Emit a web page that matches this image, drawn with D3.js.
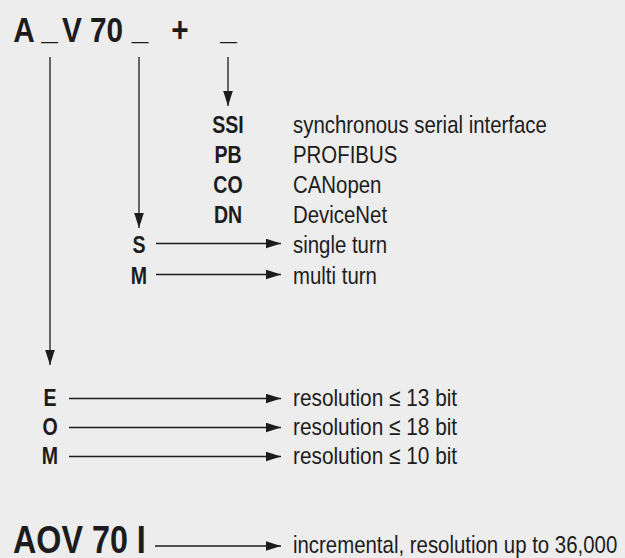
<!DOCTYPE html>
<meta charset="utf-8">
<style>
body { margin: 0; background: #ededed; }
svg { display: block; background: #ededed; }
text { fill: #1c1c1c; font-family: "Liberation Sans", Arial, sans-serif; }
.code { font-weight: bold; }
.line { stroke: #1c1c1c; stroke-width: 1.3; fill: none; }
</style>
<body>
<script src="https://cdnjs.cloudflare.com/ajax/libs/d3/7.8.5/d3.min.js"></script>
<script>

// type key pieces and the options that hang off them
var titleParts = ["A", "_", "V", "70", "_", "+", "_"];

var interfaceCodes = ["SSI", "PB", "CO", "DN"];
var interfaceNames = ["synchronous serial interface", "PROFIBUS", "CANopen", "DeviceNet"];

var turnCodes = ["S", "M"];
var turnNames = ["single turn", "multi turn"];

var resolutionCodes = ["E", "O", "M"];
var resolutionNames = ["resolution \u2264 13 bit", "resolution \u2264 18 bit", "resolution \u2264 10 bit"];

var incrementalCodes = ["AOV 70 I"];
var incrementalNames = ["incremental, resolution up to 36,000"];

var width = 625, height = 558;
var squeeze = 0.85; // no condensed face installed, so narrow the glyphs by hand

var svg = d3.select("body").append("svg")
    .attr("width", width)
    .attr("height", height);

// arrow head
svg.append("defs").append("marker")
    .attr("id", "head")
    .attr("markerUnits", "userSpaceOnUse")
    .attr("viewBox", "0 -5 15 10")
    .attr("refX", 15).attr("refY", 0)
    .attr("markerWidth", 15).attr("markerHeight", 10)
    .attr("orient", "auto")
  .append("path")
    .attr("d", "M0,-4.8L15,0L0,4.8Z")
    .attr("fill", "#1c1c1c");

function place(x, y) {
  return "translate(" + x + "," + y + ") scale(" + squeeze + ",1)";
}

// title row
var titleX = d3.scaleOrdinal()
    .domain(d3.range(titleParts.length))
    .range([24, 49.5, 72, 106.5, 140, 180, 228.5]);

svg.selectAll(".title")
   .data(titleParts)
   .enter()
   .append("text")
   .attr("class", "title code")
   .attr("transform", function(d, i) { return place(titleX(i), d == "_" ? 39 : 42); })
   .attr("text-anchor", "middle")
   .style("font-size", "35px")
   .text(function(d) { return d; });

var descX = 293;
var tipX = 281;

// vertical arrows down from the three blanks
var drops = [
  {x: 228, y2: 106},
  {x: 139, y2: 228},
  {x: 50,  y2: 365}
];
svg.selectAll(".drop")
   .data(drops)
   .enter()
   .append("line")
   .attr("class", "line")
   .attr("x1", function(d) { return d.x; })
   .attr("x2", function(d) { return d.x; })
   .attr("y1", 57)
   .attr("y2", function(d) { return d.y2; })
   .attr("marker-end", "url(#head)");

function block(codes, names, opts) {
  var y = d3.scalePoint().domain(codes.map(function(d, i) { return i; })).range(opts.range);
  var g = svg.append("g");
  g.selectAll(".code")
    .data(codes)
    .enter()
    .append("text")
    .attr("class", "code")
    .attr("transform", function(d, i) { return place(opts.codeX, y(i)); })
    .attr("text-anchor", opts.anchor)
    .style("font-size", opts.codeSize + "px")
    .text(function(d) { return d; });
  g.selectAll(".desc")
    .data(names)
    .enter()
    .append("text")
    .attr("transform", function(d, i) { return place(descX, y(i)); })
    .style("font-size", opts.descSize + "px")
    .text(function(d) { return d; });
  if (opts.lineX != null) {
    g.selectAll(".line")
      .data(codes)
      .enter()
      .append("line")
      .attr("class", "line")
      .attr("x1", opts.lineX)
      .attr("x2", tipX)
      .attr("y1", function(d, i) { return y(i) - opts.lift; })
      .attr("y2", function(d, i) { return y(i) - opts.lift; })
      .attr("marker-end", "url(#head)");
  }
}

block(interfaceCodes, interfaceNames, {range: [133, 223], codeX: 228, anchor: "middle", codeSize: 23, descSize: 24});
block(turnCodes, turnNames, {range: [253, 284], codeX: 139, anchor: "middle", codeSize: 23, descSize: 24, lineX: 156, lift: 9.5});
block(resolutionCodes, resolutionNames, {range: [406, 464], codeX: 50, anchor: "middle", codeSize: 23, descSize: 24.5, lineX: 69, lift: 7.5});
block(incrementalCodes, incrementalNames, {range: [553, 553], codeX: 13, anchor: "start", codeSize: 38, descSize: 24, lineX: 155, lift: 7});

</script>
</body>
